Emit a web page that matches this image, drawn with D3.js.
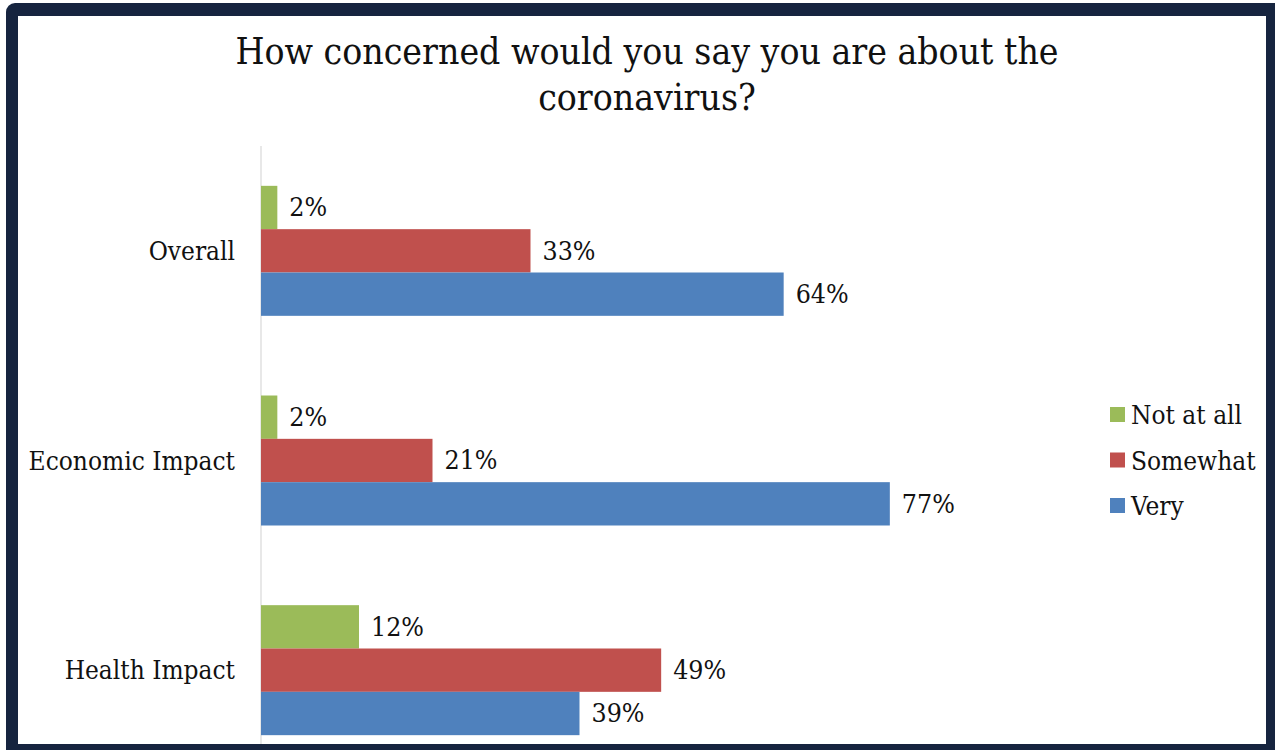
<!DOCTYPE html>
<html lang="en">
<head>
<meta charset="utf-8">
<title>coronavirus concern</title>
<script src="https://d3js.org/d3.v7.min.js"></script>
<style>
  body{margin:0;background:#fff;}
  svg text{font-family:"DejaVu Serif Condensed","DejaVu Serif",serif;font-stretch:condensed;fill:#111;}
</style>
</head>
<body>
<div id="chart"></div>
<script>
// data
var categories = ["Overall", "Economic Impact", "Health Impact"]
var seriesNames = ["Not at all", "Somewhat", "Very"]
var notAtAll = [2, 2, 12]
var somewhat = [33, 21, 49]
var very = [64, 77, 39]
var colors = ["#9bbb59", "#c0504d", "#4f81bd"]

var W = 1275, H = 750
var svg = d3.select("#chart").append("svg").attr("width", W).attr("height", H)

// dark frame
svg.append("rect").attr("x", 6).attr("y", 3).attr("width", W + 20).attr("height", H + 20)
  .attr("rx", 9).attr("fill", "#16243f")
svg.append("rect").attr("x", 18).attr("y", 16).attr("width", 1248).attr("height", 728)
  .attr("fill", "#fff")

// title
var title = svg.append("text").attr("text-anchor", "middle").attr("font-size", 37)
title.append("tspan").attr("x", 647).attr("y", 64).text("How concerned would you say you are about the")
title.append("tspan").attr("x", 647).attr("y", 110).text("coronavirus?")

var rows = []
categories.forEach(function(c, i){
  rows.push({cat: c, vals: [notAtAll[i], somewhat[i], very[i]]})
})

var x = d3.scaleLinear().domain([0, 90]).range([261, 261 + 735])
var y = d3.scaleBand().domain(categories).range([146, 775]).paddingInner(0.38).paddingOuter(0.19)
var ySub = d3.scaleBand().domain(seriesNames).range([0, y.bandwidth()])

// axis line
svg.append("line").attr("x1", 261).attr("x2", 261).attr("y1", 146).attr("y2", 744)
  .attr("stroke", "#d9d9d9").attr("stroke-width", 1.2)

var g = svg.selectAll(".grp").data(rows).enter().append("g")
  .attr("class", "grp")
  .attr("transform", function(d){ return "translate(0," + y(d.cat) + ")" })

g.selectAll("rect").data(function(d){ return d.vals }).enter().append("rect")
  .attr("x", x(0))
  .attr("y", function(d, i){ return ySub(seriesNames[i]) })
  .attr("width", function(d){ return x(d) - x(0) })
  .attr("height", ySub.bandwidth())
  .attr("fill", function(d, i){ return colors[i] })

g.selectAll(".lbl").data(function(d){ return d.vals }).enter().append("text")
  .attr("class", "lbl")
  .attr("x", function(d){ return x(d) + 12 })
  .attr("y", function(d, i){ return ySub(seriesNames[i]) + ySub.bandwidth() / 2 + 9 })
  .attr("font-size", 26.5)
  .text(function(d){ return d + "%" })

// category labels
svg.selectAll(".cat").data(categories).enter().append("text")
  .attr("class", "cat")
  .attr("x", 235)
  .attr("y", function(d){ return y(d) + y.bandwidth() / 2 + 9 })
  .attr("text-anchor", "end")
  .attr("font-size", 26)
  .text(function(d){ return d })

// legend
var leg = svg.selectAll(".leg").data(seriesNames).enter().append("g")
  .attr("class", "leg")
  .attr("transform", function(d, i){ return "translate(1110," + (407 + i * 45.5) + ")" })
leg.append("rect").attr("width", 15).attr("height", 15)
  .attr("fill", function(d, i){ return colors[i] })
leg.append("text").attr("x", 21).attr("y", 17).attr("font-size", 26)
  .text(function(d){ return d })
</script>
</body>
</html>
